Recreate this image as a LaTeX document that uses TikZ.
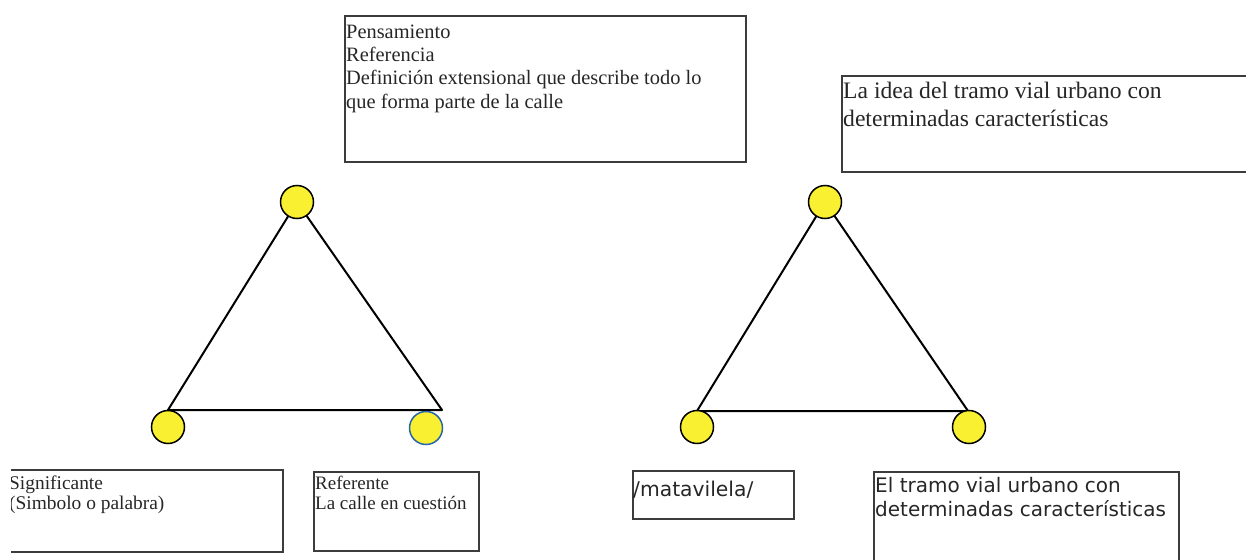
\documentclass[tikz,border=0pt]{standalone}
\usepackage{fontspec}
\setmainfont{Liberation Serif}
\newfontfamily\sinserif{DejaVu Sans}
\usepackage{tikz}
\usetikzlibrary{positioning,calc}
\definecolor{amarillo}{RGB}{250,240,50}
\definecolor{azulborde}{RGB}{40,100,170}
\definecolor{marco}{RGB}{60,60,60}

\begin{document}
\begin{tikzpicture}[x=1pt, y=-1pt,
    caja/.style={draw=marco, line width=2pt, inner sep=0pt, anchor=north west},
    texto/.style={inner sep=0pt, anchor=north west, align=left, text=black!85},
    bola/.style={circle, draw=black, line width=1.5pt, fill=amarillo, minimum size=33pt, inner sep=0pt},
    lado/.style={line width=2pt, line join=round}]
        \useasboundingbox (0,0) rectangle (1246,559);
        \clip (11,0) rectangle (1246,559);

        % cajas de arriba
        \node [caja, minimum width=401pt, minimum height=146pt] (pens) at (344,15) {};
        \node [texto, font=\fontsize{20.4}{23.3}\selectfont] (pensT) at (346,21.7)
            {\strut Pensamiento\\Referencia\\Definición extensional que describe todo lo\\que forma parte de la calle};
        \node [caja, minimum width=460pt, minimum height=96pt] (idea) at (841,75) {};
        \node [texto, font=\fontsize{23.6}{28}\selectfont] (ideaT) at (843,78.4)
            {\strut La idea del tramo vial urbano con\\determinadas características};

        % triangulo izquierdo
        \coordinate (t1) at (297,202);
        \coordinate (i1) at (168,410);
        \coordinate (d1) at (442,410);
        \draw [lado] (t1) -- (i1) -- (d1) -- cycle;
        \node [bola] (bt1) at (t1) {};
        \node [bola] (bi1) at (168,427) {};
        \node [bola, draw=azulborde] (bd1) at (426,428) {};

        % triangulo derecho
        \coordinate (t2) at (825,202);
        \coordinate (i2) at (697,411);
        \coordinate (d2) at (968,411);
        \draw [lado] (t2) -- (i2) -- (d2) -- cycle;
        \node [bola] (bt2) at (t2) {};
        \node [bola] (bi2) at (697,427) {};
        \node [bola] (bd2) at (969,427) {};

        % cajas de abajo
        \node [caja, minimum width=292pt, minimum height=82pt] (sig) at (-10,469) {};
        \node [texto, font=\fontsize{19.4}{20}\selectfont] (sigT) at (9,475)
            {\strut Significante\\(Simbolo o palabra)};
        \node [caja, minimum width=165pt, minimum height=79pt] (ref) at (313,471) {};
        \node [texto, font=\fontsize{19}{20}\selectfont] (refT) at (315,475)
            {\strut Referente\\La calle en cuestión};
        \node [caja, minimum width=161pt, minimum height=48pt] (mata) at (632,470) {};
        \node [texto, font=\sinserif\fontsize{20.3}{24}\selectfont] (mataT) at (633,479)
            {\strut /matavilela/};
        \node [caja, minimum width=305pt, minimum height=120pt] (tramo) at (873,471) {};
        \node [texto, font=\sinserif\fontsize{20}{24}\selectfont] (tramoT) at (875,475)
            {\strut El tramo vial urbano con\\determinadas características};
\end{tikzpicture}
\end{document}
